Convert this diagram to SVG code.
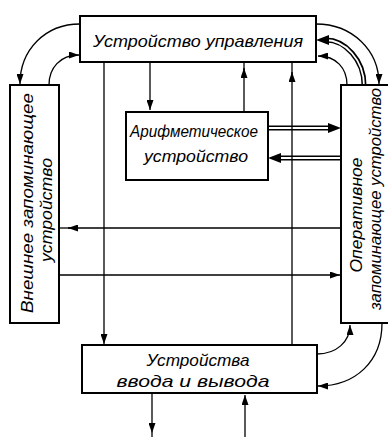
<svg xmlns="http://www.w3.org/2000/svg" width="388" height="437" viewBox="0 0 388 437">
<style>
.box{fill:#fff;stroke:#000;stroke-width:2}
.t{font-family:"Liberation Sans","DejaVu Sans",sans-serif;font-style:italic;font-size:17px;fill:#000;text-anchor:middle}
.ln{fill:none;stroke:#000;stroke-width:1.3}
.dbl{fill:none;stroke:#000;stroke-width:5}
.dblw{fill:none;stroke:#fff;stroke-width:1.8}
</style>
<defs>
<marker id="a" markerUnits="userSpaceOnUse" markerWidth="10" markerHeight="7" refX="10" refY="3.5" orient="auto">
<path d="M0,0 L10,3.5 L0,7 Z" fill="#000"/>
</marker>
<marker id="b" markerUnits="userSpaceOnUse" markerWidth="13" markerHeight="10" refX="13" refY="5" orient="auto">
<path d="M0,0 L13,5 L0,10 Z" fill="#000"/>
</marker>
</defs>
<rect width="388" height="437" fill="#fff"/>
<g id="connectors">
<path class="ln" d="M80,24 C45,24 20,50 20,84" marker-end="url(#a)"/>
<path class="ln" d="M49,85 C49,68 60,55 79,55" marker-end="url(#a)"/>
<path class="ln" d="M316,24 C352,24 379,50 379,84" marker-end="url(#a)"/>
<path class="dbl" d="M364,85 C364,60 345,40 326,40"/>
<path class="dblw" d="M364,86 C364,60 345,40 325,40"/>
<path d="M316,40 L329,35 L329,45 Z" fill="#000"/>
<path class="ln" d="M347,85 C347,68 336,56 318,56" marker-end="url(#a)"/>
<path class="ln" d="M317,354 C336,354 350,342 350,325" marker-end="url(#a)"/>
<path class="ln" d="M382,323 C382,362 355,386 318,386" marker-end="url(#a)"/>
<path class="dbl" d="M268,128 L330,128"/>
<path class="dblw" d="M267,128 L331,128"/>
<path d="M341,128 L328,123 L328,133 Z" fill="#000"/>
<path class="dbl" d="M341,158 L279,158"/>
<path class="dblw" d="M342,158 L278,158"/>
<path d="M268,158 L281,153 L281,163 Z" fill="#000"/>
<path class="ln" d="M104,62 L104,344" marker-end="url(#a)"/>
<path class="ln" d="M150,62 L150,110" marker-end="url(#a)"/>
<path class="ln" d="M244,112 L244,68" marker-end="url(#a)"/>
<path class="ln" d="M244,70 L244,62"/>
<path class="ln" d="M292,345 L292,72" marker-end="url(#a)"/>
<path class="ln" d="M292,74 L292,62"/>
<path class="ln" d="M341,228 L68,228" marker-end="url(#a)"/>
<path class="ln" d="M70,228 L59,228"/>
<path class="ln" d="M59,275 L340,275" marker-end="url(#a)"/>
<path class="ln" d="M152,393 L152,433" marker-end="url(#a)"/>
<path class="ln" d="M152,433 L152,437"/>
<path class="ln" d="M245,437 L245,395" marker-end="url(#a)"/>
</g>
<g id="control">
<rect class="box" x="80" y="16" width="236" height="46"/>
<text class="t" x="198" y="47" textLength="210" lengthAdjust="spacingAndGlyphs">Устройство  управления</text>
</g>
<g id="alu">
<rect class="box" x="126" y="112" width="142" height="68"/>
<text class="t" x="194" y="137" textLength="128" lengthAdjust="spacingAndGlyphs">Арифметическое</text>
<text class="t" x="196" y="162" textLength="104" lengthAdjust="spacingAndGlyphs">устройство</text>
</g>
<g id="external-memory">
<rect class="box" x="10" y="85" width="49" height="238"/>
<text class="t" transform="translate(33,203) rotate(-90)" textLength="220" lengthAdjust="spacingAndGlyphs">Внешнее  запоминающее</text>
<text class="t" transform="translate(52,210) rotate(-90)" textLength="104" lengthAdjust="spacingAndGlyphs">устройство</text>
</g>
<g id="main-memory">
<rect class="box" x="341" y="85" width="52" height="238"/>
<text class="t" transform="translate(362,215) rotate(-90)" textLength="115" lengthAdjust="spacingAndGlyphs">Оперативное</text>
<text class="t" transform="translate(381,199) rotate(-90)" textLength="222" lengthAdjust="spacingAndGlyphs">запоминающее  устройство</text>
</g>
<g id="io">
<rect class="box" x="82" y="345" width="235" height="48"/>
<text class="t" x="198" y="366" textLength="103" lengthAdjust="spacingAndGlyphs">Устройства</text>
<text class="t" x="193" y="387" textLength="153" lengthAdjust="spacingAndGlyphs">ввода  и  вывода</text>
</g>
</svg>
